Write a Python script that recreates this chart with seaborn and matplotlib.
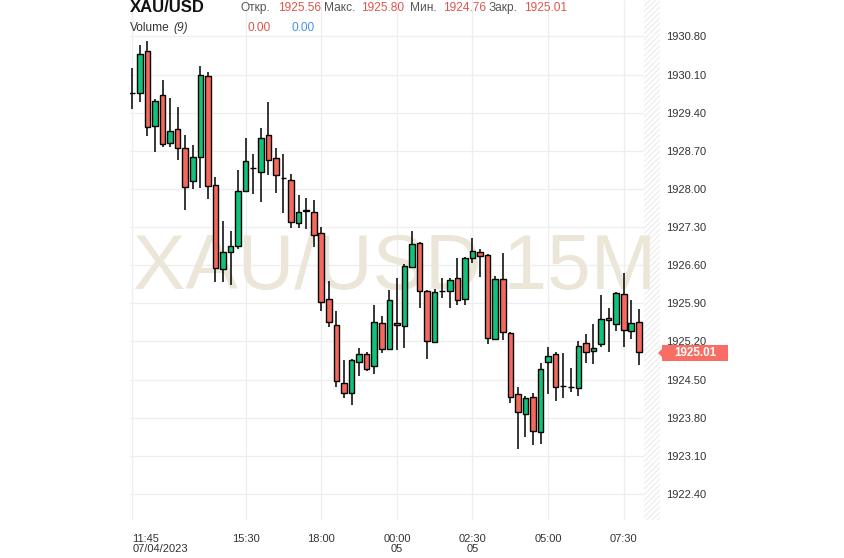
import seaborn as sns
import matplotlib.pyplot as plt
from matplotlib.patches import Rectangle, Polygon

sns.set_theme(style="white")
plt.rcParams['font.family'] = ['Liberation Sans', 'DejaVu Sans']
plt.rcParams['hatch.linewidth'] = 0.8

# 15 minute candles, XAU/USD
opens = [1929.77, 1929.76, 1930.54, 1929.15, 1929.73, 1928.85, 1929.10, 1928.75, 1928.14, 1928.58,
         1930.08, 1928.08, 1926.53, 1926.85, 1926.96, 1927.97, 1928.39, 1928.32, 1928.99, 1928.56,
         1928.20, 1928.16, 1927.38, 1927.59, 1927.58, 1927.20, 1925.98, 1925.50, 1924.43, 1924.26,
         1924.83, 1924.96, 1924.74, 1925.54, 1925.06, 1925.54, 1925.48, 1926.56, 1927.01, 1926.13,
         1925.19, 1926.13, 1926.13, 1926.36, 1925.98, 1926.74, 1926.84, 1926.78, 1925.24, 1926.35,
         1925.36, 1924.24, 1923.86, 1924.18, 1923.53, 1924.83, 1924.96, 1924.39, 1924.36, 1924.35,
         1925.17, 1925.02, 1925.15, 1925.63, 1925.52, 1926.07, 1925.39, 1925.56]
highs = [1930.22, 1930.65, 1930.71, 1929.65, 1930.00, 1929.67, 1929.51, 1928.99, 1928.80, 1930.26,
         1930.14, 1928.22, 1927.42, 1927.23, 1928.34, 1928.94, 1928.64, 1929.12, 1929.59, 1928.76,
         1928.64, 1928.27, 1927.88, 1927.84, 1927.79, 1927.31, 1926.31, 1925.76, 1924.85, 1924.88,
         1925.07, 1925.01, 1925.87, 1925.67, 1926.15, 1926.36, 1926.62, 1927.23, 1927.03, 1926.15,
         1926.17, 1926.37, 1926.37, 1926.74, 1926.75, 1927.09, 1926.90, 1926.80, 1926.41, 1926.82,
         1925.38, 1924.36, 1924.19, 1924.26, 1924.80, 1925.10, 1925.01, 1924.99, 1924.71, 1925.21,
         1925.33, 1925.52, 1926.05, 1925.81, 1926.10, 1926.45, 1925.96, 1925.80]
lows = [1929.47, 1929.59, 1928.97, 1928.67, 1928.77, 1928.77, 1928.54, 1927.62, 1927.99, 1928.02,
        1927.81, 1926.30, 1926.30, 1926.24, 1926.90, 1927.95, 1927.90, 1927.76, 1928.25, 1927.92,
        1927.56, 1927.29, 1927.28, 1927.27, 1926.93, 1925.76, 1925.46, 1924.37, 1924.16, 1924.04,
        1924.56, 1924.65, 1924.61, 1924.98, 1925.05, 1925.04, 1925.07, 1926.54, 1925.81, 1924.87,
        1925.18, 1926.00, 1925.82, 1925.87, 1925.86, 1926.64, 1926.39, 1925.15, 1925.22, 1925.22,
        1924.07, 1923.22, 1923.45, 1923.29, 1923.31, 1924.24, 1924.10, 1924.16, 1924.27, 1924.19,
        1924.81, 1924.78, 1925.10, 1925.01, 1925.39, 1925.10, 1925.24, 1924.76]
closes = [1929.77, 1930.48, 1929.13, 1929.62, 1928.82, 1929.07, 1928.76, 1928.04, 1928.58, 1930.10,
          1928.06, 1926.54, 1926.85, 1926.96, 1927.97, 1928.51, 1928.39, 1928.93, 1928.54, 1928.25,
          1928.20, 1927.39, 1927.58, 1927.62, 1927.16, 1925.92, 1925.56, 1924.47, 1924.26, 1924.85,
          1924.96, 1924.69, 1925.56, 1925.06, 1925.96, 1925.50, 1926.59, 1926.99, 1926.13, 1925.20,
          1926.11, 1926.13, 1926.33, 1925.96, 1926.74, 1926.86, 1926.77, 1925.27, 1926.35, 1925.38,
          1924.18, 1923.91, 1924.16, 1923.56, 1924.70, 1924.94, 1924.37, 1924.39, 1924.36, 1925.11,
          1925.01, 1925.08, 1925.61, 1925.59, 1926.08, 1925.41, 1925.54, 1925.01]

time_ticks = [0, 15, 25, 35, 45, 55, 65]
time_labels = ["11:45\n07/04/2023", "15:30", "18:00", "00:00\n05", "02:30\n05", "05:00", "07:30"]
price_ticks = [1922.40, 1923.10, 1923.80, 1924.50, 1925.20, 1925.90, 1926.60,
               1927.30, 1928.00, 1928.70, 1929.40, 1930.10, 1930.80]

GREEN = "#12c27b"
RED = "#f5695d"
W, H = 844, 558

fig = plt.figure(figsize=(W / 100, H / 100), dpi=100)
ax = fig.add_axes([130 / W, 38 / H, 530 / W, 520 / H])

x = list(range(len(opens)))
colors = [GREEN if c >= o else RED for o, c in zip(opens, closes)]
bottoms = [min(o, c) for o, c in zip(opens, closes)]
heights = [abs(c - o) for o, c in zip(opens, closes)]

ax.vlines(x, lows, highs, color="black", linewidth=1.1, zorder=3)
ax.bar(x, heights, bottom=bottoms, width=0.74, color=colors,
       edgecolor="black", linewidth=1.0, zorder=4)

ax.set_xlim(-0.3, 69.8)
ax.set_ylim(1921.92, 1931.47)

# grid
for t in time_ticks:
    ax.axvline(t, color="#eeeeee", linewidth=0.9, zorder=0)
for p in price_ticks:
    ax.axhline(p, color="#eeeeee", linewidth=0.9, zorder=0)

# hatched area on the right
ax.axvspan(67.7, 69.8, facecolor="white", edgecolor="#ebebeb", hatch="//////",
           linewidth=0, zorder=1)

# watermark
ax.text(395 / W, 1 - 289 / H, "XAU/USD 15M", transform=fig.transFigure,
        ha="center", va="baseline", fontsize=56.5, color="#ebe6d8", zorder=2)

for s in ax.spines.values():
    s.set_visible(False)

ax.yaxis.tick_right()
ax.set_yticks(price_ticks)
ax.set_yticklabels([f"{p:.2f}" for p in price_ticks])
ax.tick_params(axis="y", length=0, pad=4.5, labelsize=8, labelcolor="#333333")

ax.set_xticks(time_ticks)
ax.set_xticklabels(time_labels)
ax.tick_params(axis="x", length=0, pad=10, labelsize=8, labelcolor="#333333")
for lab in ax.get_xticklabels():
    lab.set_linespacing(1.0)
ax.get_xticklabels()[0].set_ha("left")
ax.get_xticklabels()[0].set_multialignment("left")

# header
def ftext(px, py, s, **kw):
    fig.text(px / W, 1 - py / H, s, va="center", **kw)

ftext(130, 8, "XAU/USD", fontsize=12, fontweight="bold", color="#111111")
hdr = [(241, "Откр.", 278, opens[-1]), (324, "Макс.", 361, highs[-1]),
       (410, "Мин.", 443, lows[-1]), (489, "Закр.", 524, closes[-1])]
for lx, lab, vx, v in hdr:
    ftext(lx, 8, lab, fontsize=8.6, color="#555555")
    ftext(vx, 8, f"{v:.2f}", fontsize=8.6, color="#e0554b")
ftext(130, 28, "Volume", fontsize=8.6, color="#333333")
ftext(173, 28, "(9)", fontsize=8.6, color="#333333", style="italic")
ftext(248, 28, "0.00", fontsize=8.6, color="#e0554b")
ftext(292, 28, "0.00", fontsize=8.6, color="#4a90e2")

# last price tag
fig.patches.append(Rectangle((662 / W, 1 - 361 / H), 66 / W, 16 / H,
                             transform=fig.transFigure, facecolor="#f96e64",
                             edgecolor="none"))
fig.patches.append(Polygon([(658 / W, 1 - 353 / H), (662 / W, 1 - 349 / H),
                            (662 / W, 1 - 357 / H)], closed=True,
                           transform=fig.transFigure, facecolor="#f96e64",
                           edgecolor="none"))
ftext(695, 353.5, f"{closes[-1]:.2f}", fontsize=8.4, fontweight="bold",
      color="white", ha="center")

fig.savefig("out.png", dpi=100)
